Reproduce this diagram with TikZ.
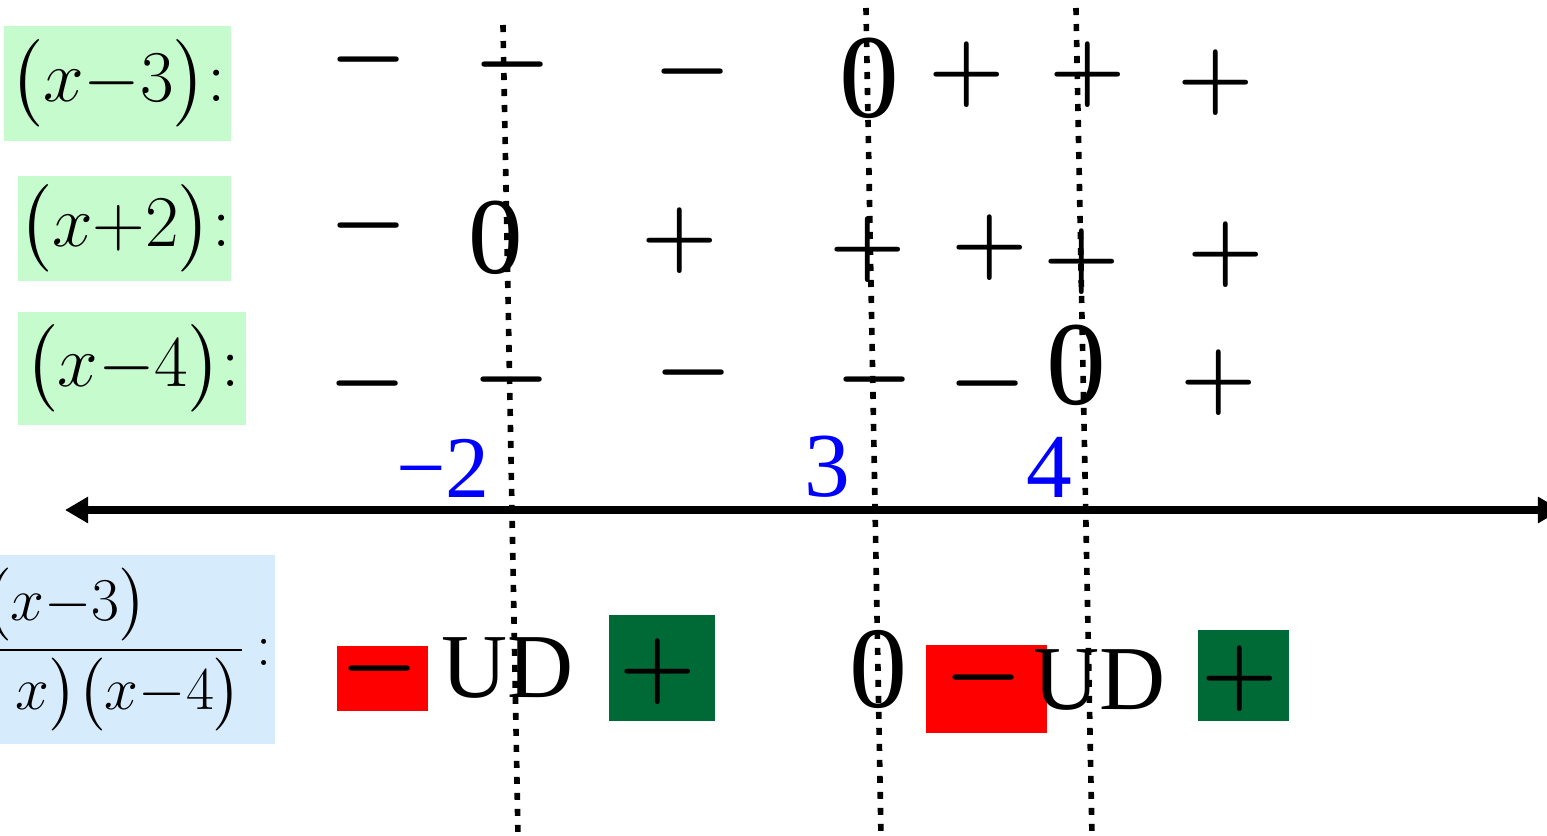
\documentclass[tikz,border=0pt]{standalone}
\usepackage{amsmath}
\usepackage{fontspec}
\setmainfont{Liberation Serif}
\usetikzlibrary{arrows.meta}
\definecolor{lgreen}{RGB}{197,251,205}
\definecolor{lblue}{RGB}{214,236,252}
\definecolor{dgreen}{RGB}{0,106,54}
\newcommand{\mns}{$\boldsymbol{-}$}
\newcommand{\pls}{$\boldsymbol{+}$}
\tikzset{
	sgn/.style={inner sep=0pt, font=\fontsize{#1pt}{#1pt}\selectfont},
	ptlbl/.style={sgn=#1, text=blue},
	lbl/.style={fill=lgreen, inner sep=0pt, font=\fontsize{20pt}{24pt}\selectfont},
	redbox/.style={fill=red, inner sep=0pt},
	grnbox/.style={fill=dgreen, inner sep=0pt},
	zline/.style={line width=1.6pt, dash pattern=on 2pt off 2.55pt},
	numline/.style={line width=2pt, {Triangle[length=0.23cm,width=0.25cm]}-{Triangle[length=0.23cm,width=0.25cm]}}
}

\begin{document}
\begin{tikzpicture}[x=0.01cm, y=-0.01cm]
					\useasboundingbox (0,0) rectangle (1547,836);
					\clip (0,0) rectangle (1547,836);
					
					\node[lbl, minimum width=2.27cm, minimum height=1.15cm] (lA) at (117.5,83.5) {$\bigl(x{-}3\bigr){:}$};
					\node[lbl, minimum width=2.13cm, minimum height=1.05cm] (lB) at (124.5,228.5) {$\bigl(x{+}2\bigr){:}$};
					\node[lbl, minimum width=2.28cm, minimum height=1.13cm] (lC) at (132,368.5) {$\bigl(x{-}4\bigr){:}$};
					\node[fill=lblue, inner xsep=0.04cm, inner ysep=0.13cm, anchor=base east, font=\fontsize{17pt}{20pt}\selectfont] (lF) at (276,665) {$\dfrac{\bigl(x{-}3\bigr)}{\bigl(2+x\bigr)\bigl(x{-}4\bigr)}\,{:}$};
					
					\node[sgn=36] (a1) at (369,60) {\mns};
					\node[sgn=40] (a2) at (513,65) {\mns};
					\node[sgn=31] (a3) at (693,72) {\mns};
					\node[sgn=34] (a4) at (869,78) {0};
					\node[sgn=32] (a5) at (967,75) {\pls};
					\node[sgn=32] (a6) at (1088,75) {\pls};
					\node[sgn=28] (a7) at (1216,83) {\pls};
					
					\node[sgn=36] (b1) at (369,226) {\mns};
					\node[sgn=31] (b2) at (496,238) {0};
					\node[sgn=32] (b3) at (680,241) {\pls};
					\node[sgn=36] (b4) at (868,250) {\pls};
					\node[sgn=28] (b5) at (990,248) {\pls};
					\node[sgn=35] (b6) at (1082,262) {\pls};
					\node[sgn=32] (b7) at (1226,255) {\pls};
					
					\node[sgn=27] (c1) at (368,384) {\mns};
					\node[sgn=32] (c2) at (512,380) {\mns};
					\node[sgn=32] (c3) at (694,373) {\mns};
					\node[sgn=31] (c4) at (875,380) {\mns};
					\node[sgn=27] (c5) at (988,384) {\mns};
					\node[sgn=34] (c6) at (1076,365) {0};
					\node[sgn=28] (c7) at (1219,383) {\pls};
					
					\node[ptlbl=25] (q1) at (443,468) {−2};
					\node[ptlbl=26] (q2) at (827,467) {3};
					\node[ptlbl=26] (q3) at (1049,467) {4};
					
					\coordinate (axl) at (65,510);
					\coordinate (axr) at (1561,510);
					\draw[numline] (axl) -- (axr);
					
					\node[redbox, minimum width=0.91cm, minimum height=0.65cm] (r1) at (382.5,678.5) {};
					\node[sgn=26] (d1) at (380,669) {\mns};
					\node[sgn=26] (d2) at (508,668) {UD};
					\node[grnbox, minimum width=1.06cm, minimum height=1.06cm] (g1) at (662,668) {};
					\node[sgn=30] (d3) at (658,672) {\pls};
					\node[sgn=33] (d4) at (879,669) {0};
					\node[redbox, minimum width=1.21cm, minimum height=0.88cm] (r2) at (986.5,689) {};
					\node[sgn=34] (d5) at (984,678) {\mns};
					\node[sgn=26] (d6) at (1100,680) {UD};
					\node[grnbox, minimum width=0.91cm, minimum height=0.91cm] (g2) at (1243.5,675.5) {};
					\node[sgn=26] (d7) at (1240,679) {\pls};
					
					\coordinate (t1) at (503,25);
					\coordinate (u1) at (518,836);
					\coordinate (t2) at (866,8);
					\coordinate (u2) at (881,836);
					\coordinate (t3) at (1076,8);
					\coordinate (u3) at (1092,836);
					\draw[zline] (t1) -- (u1);
					\draw[zline] (t2) -- (u2);
					\draw[zline] (t3) -- (u3);
					
				\end{tikzpicture}
\end{document}
